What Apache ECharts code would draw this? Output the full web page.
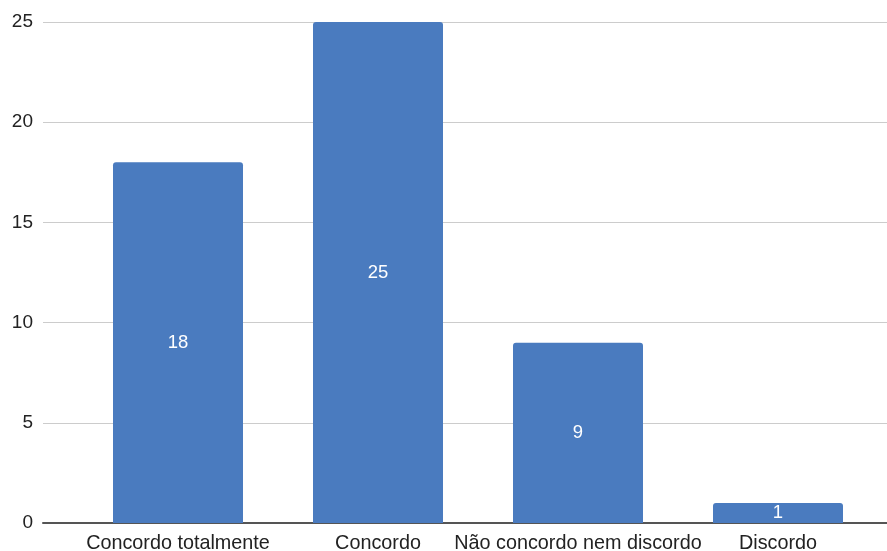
<!DOCTYPE html>
<html><head><meta charset="utf-8">
<script src="https://cdn.jsdelivr.net/npm/echarts@6/dist/echarts.min.js"></script>
<style>html,body{margin:0;padding:0;background:#fff}#c{width:887px;height:551px}</style>
</head><body><div id="c"></div>
<script>
const categories = ["Concordo totalmente", "Concordo", "Não concordo nem discordo", "Discordo"];
const values = [18, 25, 9, 1];
const yTicks = [0, 5, 10, 15, 20, 25];

const chart = echarts.init(document.getElementById('c'), null, {renderer: 'canvas'});
const font = 'Liberation Sans, Arial, sans-serif';
chart.setOption({
  animation: false,
  grid: [
    {left: 43, right: 0, top: 22, bottom: 28, containLabel: false, outerBoundsMode: 'none'},
    {left: 78, right: 9, top: 22, bottom: 28, containLabel: false, outerBoundsMode: 'none'}
  ],
  xAxis: [
    {gridIndex: 0, type: 'value', min: 0, max: 1, show: true,
     axisLine: {show: true, onZero: false, lineStyle: {color: '#555', width: 2}},
     axisTick: {show: false}, axisLabel: {show: false}, splitLine: {show: false}},
    {gridIndex: 1, type: 'category', data: categories,
     axisLine: {show: false}, axisTick: {show: false},
     axisLabel: {color: '#222', fontSize: 19.8, fontFamily: font, margin: 11, interval: 0}}
  ],
  yAxis: [
    {gridIndex: 0, type: 'value', min: yTicks[0], max: yTicks[yTicks.length-1], interval: 5,
     axisLine: {show: false}, axisTick: {show: false},
     axisLabel: {color: '#222', fontSize: 19, fontFamily: font, margin: 10},
     splitLine: {show: true, lineStyle: {color: '#ccc', width: 1}}},
    {gridIndex: 1, type: 'value', min: yTicks[0], max: yTicks[yTicks.length-1], interval: 5, show: false}
  ],
  series: [{
    type: 'bar', xAxisIndex: 1, yAxisIndex: 1, data: values,
    barWidth: 130,
    itemStyle: {color: '#4a7bbf', borderRadius: [3, 3, 0, 0]},
    label: {show: true, position: 'inside', color: '#fff', fontSize: 18.5, fontFamily: font}
  }]
});
</script></body></html>
